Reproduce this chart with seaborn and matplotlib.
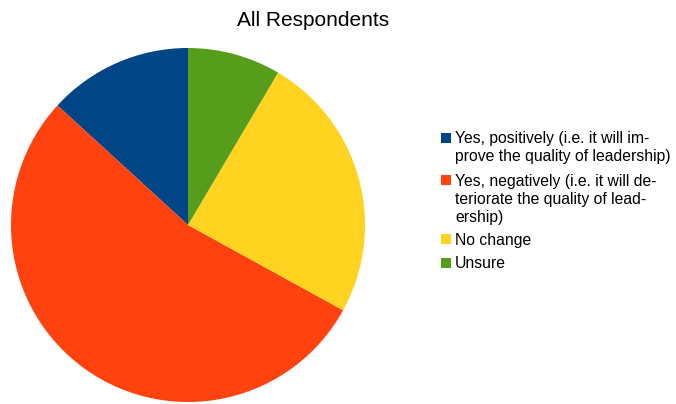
import matplotlib
matplotlib.use("Agg")
import matplotlib.pyplot as plt
from matplotlib.patches import Rectangle
import seaborn as sns

# Survey answers and their shares (%)
answers = [
    "Yes, positively (i.e. it will im-\nprove the quality of leadership)",
    "Yes, negatively (i.e. it will de-\nteriorate the quality of lead-\nership)",
    "No change",
    "Unsure",
]
shares = [13.2, 53.8, 24.5, 8.5]
title = "All Respondents"

colors = ["#004586", "#ff420e", "#ffd320", "#579d1c"]

sns.set_theme(style="white")
plt.rcParams["font.family"] = ["Liberation Sans", "DejaVu Sans"]

W, H = 676, 404
fig = plt.figure(figsize=(W / 100, H / 100), dpi=100)
fig.patch.set_facecolor("white")

# Pie: centre (188, 225) px, radius 177 px
cx, cy, r = 188, 225, 177
ax = fig.add_axes([(cx - r) / W, (H - cy - r) / H, 2 * r / W, 2 * r / H])
ax.pie(shares, colors=colors, startangle=90, counterclock=True,
       wedgeprops=dict(linewidth=0, antialiased=True))
ax.set_xlim(-1, 1)
ax.set_ylim(-1, 1)
ax.set_aspect("equal")
ax.axis("off")

fig.text(313 / W, 1 - 20 / H, title, ha="center", va="center",
         fontsize=15, color="#000000")

# Legend drawn by hand so the swatch sits on the first line of each entry
entry_y = [137.5, 180, 239, 263]
line_h = 18.3
sq = 10
sq_x = 441
text_x = 455
for lab, col, yc in zip(answers, colors, entry_y):
    fig.patches.append(Rectangle((sq_x / W, (H - yc - sq / 2) / H), sq / W, sq / H,
                                 transform=fig.transFigure, facecolor=col,
                                 edgecolor="none", figure=fig))
    for k, line in enumerate(lab.split("\n")):
        yb = yc + 5.5 + k * line_h
        fig.text(text_x / W, 1 - yb / H, line, ha="left", va="baseline",
                 fontsize=11.3, color="#000000")

fig.savefig("out.png", dpi=100, facecolor="white")
